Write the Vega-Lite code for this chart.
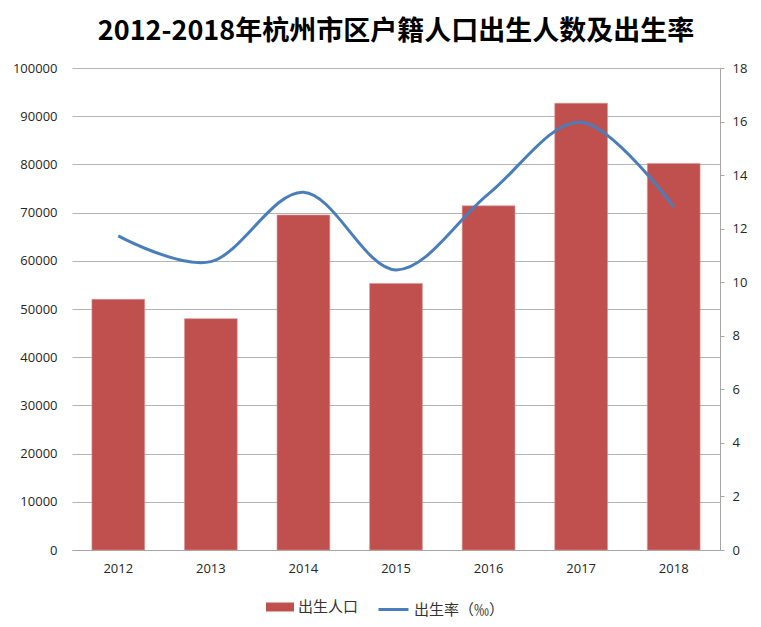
{
  "$schema": "https://vega.github.io/schema/vega-lite/v6.json",
  "width": 648,
  "height": 482,
  "autosize": {"type": "none"},
  "padding": {"left": 72, "top": 68, "right": 41, "bottom": 77},
  "background": "white",
  "title": {
    "text": "2012-2018年杭州市区户籍人口出生人数及出生率",
    "font": "Noto Sans CJK SC",
    "fontSize": 27,
    "fontWeight": "bold",
    "color": "#000000",
    "anchor": "middle",
    "offset": 16
  },
  "config": {
    "view": {"stroke": null},
    "axis": {"labelFont": "Open Sans", "labelFontSize": 13, "labelColor": "#262626", "titleFontSize": 0, "labelOverlap": false},
    "legend": {"labelFont": "Noto Sans CJK SC", "labelFontSize": 15, "labelColor": "#333333"}
  },
  "data": {
    "values": [
      {"year": "2012", "pop": 52000, "rate": 11.73},
      {"year": "2013", "pop": 48000, "rate": 10.77},
      {"year": "2014", "pop": 69500, "rate": 13.36},
      {"year": "2015", "pop": 55300, "rate": 10.46},
      {"year": "2016", "pop": 71400, "rate": 13.3},
      {"year": "2017", "pop": 92700, "rate": 15.97},
      {"year": "2018", "pop": 80200, "rate": 12.82}
    ]
  },
  "encoding": {
    "x": {
      "field": "year",
      "type": "ordinal",
      "scale": {"paddingInner": 0.43, "paddingOuter": 0.215},
      "axis": {"title": null, "labelAngle": 0, "domainColor": "#A6A6A6", "ticks": false, "labelPadding": 12}
    }
  },
  "layer": [
    {
      "mark": {"type": "bar", "color": "#C0504D", "stroke": "#D99694", "strokeWidth": 0.6},
      "encoding": {
        "y": {
          "field": "pop",
          "type": "quantitative",
          "scale": {"domain": [0, 100000]},
          "axis": {"title": null, "values": [0,10000,20000,30000,40000,50000,60000,70000,80000,90000,100000], "format": "d", "domain": false, "ticks": false, "labelPadding": 15, "grid": true, "gridColor": "#B4B4B4", "gridWidth": 1}
        },
        "fill": {
          "datum": "出生人口",
          "type": "nominal",
          "scale": {"range": ["#C0504D"]},
          "legend": {"title": null, "orient": "none", "legendX": 194, "legendY": 525, "symbolType": "M-1,-0.32H1V0.32H-1Z", "symbolSize": 784, "symbolStrokeWidth": 0}
        }
      }
    },
    {
      "mark": {"type": "line", "interpolate": "cardinal", "strokeWidth": 3},
      "encoding": {
        "y": {
          "field": "rate",
          "type": "quantitative",
          "scale": {"domain": [0, 18]},
          "axis": {"title": null, "orient": "right", "values": [0,2,4,6,8,10,12,14,16,18], "grid": false, "domainColor": "#A6A6A6", "tickColor": "#A6A6A6", "tickSize": 4, "labelPadding": 8}
        },
        "stroke": {
          "datum": "出生率（‰）",
          "type": "nominal",
          "scale": {"range": ["#4A7EBB"]},
          "legend": {"title": null, "orient": "none", "legendX": 305, "legendY": 525, "symbolType": "stroke", "symbolSize": 900, "symbolStrokeWidth": 3}
        }
      }
    }
  ],
  "resolve": {"scale": {"y": "independent", "fill": "independent", "stroke": "independent"}}
}
